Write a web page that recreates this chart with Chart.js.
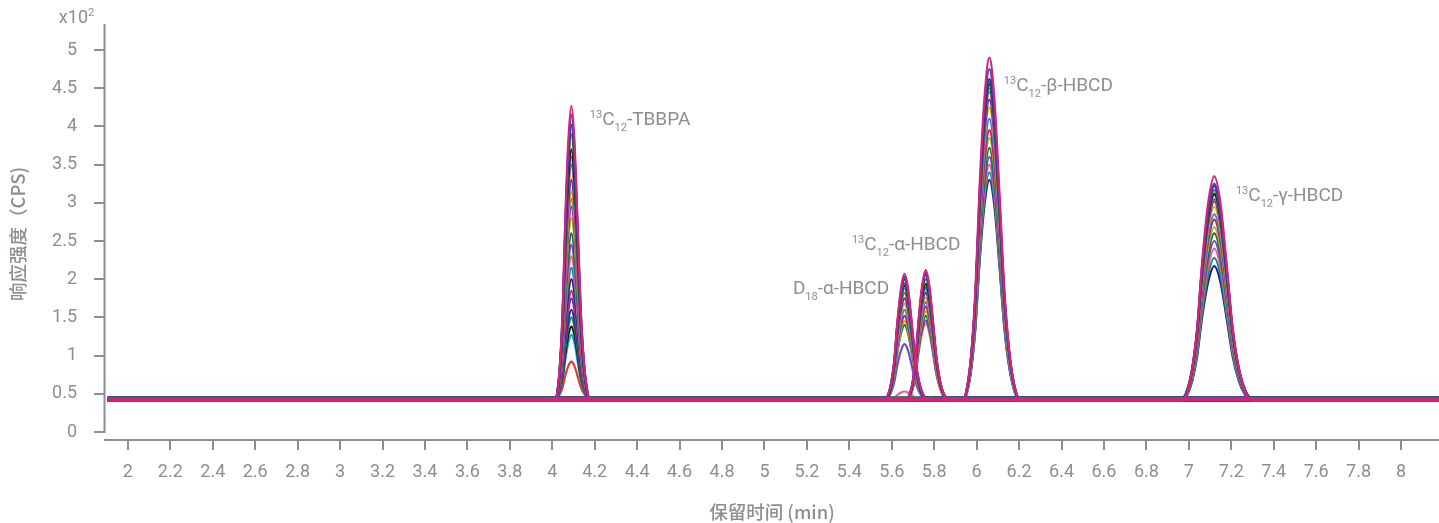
<!DOCTYPE html>
<html>
<head>
<meta charset="utf-8">
<script src="https://cdn.jsdelivr.net/npm/chart.js@4"></script>
<style>
  html, body { margin: 0; padding: 0; background: #fff; }
  #wrap { width: 1439px; height: 523px; }
</style>
</head>
<body>
<div id="wrap"><canvas id="myChart"></canvas></div>
<script>
// compounds, retention times (min) and peak sigma (min)
const retentionTimes = [4.09, 5.66, 5.76, 6.06, 7.12];
const peakSigma = [0.029, 0.034, 0.034, 0.047, 0.058];

// apex heights (x10^2 CPS) of every overlaid injection
const tbbpaApex = [4.27, 4.15, 4.02, 3.9, 3.7, 3.6, 3.5, 3.3, 3.15, 3.05, 2.95, 2.8, 2.6, 2.45, 2.3, 2.15, 2.0, 1.85, 1.75, 1.6, 1.5, 1.38, 1.27, 0.92];
const d18AlphaApex = [2.07, 2.03, 2.0, 1.95, 1.92, 1.88, 1.82, 1.75, 1.68, 1.6, 1.52, 1.45, 1.4, 1.15, 0.53];
const c13AlphaApex = [2.12, 2.08, 2.06, 2.0, 1.94, 1.9, 1.88, 1.82, 1.76, 1.7, 1.64, 1.58, 1.52, 1.46, 1.42];
const betaApex = [4.9, 4.75, 4.62, 4.58, 4.55, 4.5, 4.45, 4.35, 4.25, 4.1, 3.95, 3.85, 3.72, 3.6, 3.5, 3.4, 3.3];
const gammaApex = [3.35, 3.25, 3.22, 3.17, 3.12, 3.1, 3.05, 3.02, 2.95, 2.85, 2.78, 2.68, 2.6, 2.5, 2.4, 2.28, 2.17];
const apexLists = [tbbpaApex, d18AlphaApex, c13AlphaApex, betaApex, gammaApex];

// baseline levels of the traces
const baseLevels = [0.42, 0.43, 0.41, 0.44, 0.42, 0.45, 0.43, 0.41, 0.42, 0.44];
const runStart = 1.905;
const runEnd = 8.18;

// peak profile (steps in sigma, relative height) as seen on the traces, slight tailing
const shapeSteps = [-2.6, -2.2, -1.8, -1.4, -1, -0.5, 0, 0.5, 1, 1.5, 2, 2.5, 3];
const shapeValues = [0, 0.04, 0.14, 0.32, 0.61, 0.88, 1, 0.88, 0.61, 0.32, 0.14, 0.04, 0];

// peak labels
const labelParts = [
  { sup: '13', main: 'C', sub: '12', rest: '-TBBPA' },
  { sup: '', main: 'D', sub: '18', rest: '-α-HBCD' },
  { sup: '13', main: 'C', sub: '12', rest: '-α-HBCD' },
  { sup: '13', main: 'C', sub: '12', rest: '-β-HBCD' },
  { sup: '13', main: 'C', sub: '12', rest: '-γ-HBCD' }
];
const labelTimes = [4.177, 5.134, 5.412, 6.128, 7.222];
const labelLevels = [4.08, 1.87, 2.45, 4.52, 3.08];

const traceColors = ['#d4237a', '#4b3bbf', '#1f2f8f', '#2a8a3e', '#141414', '#1d9fc4', '#e53b2f', '#5a2fb0',
  '#f5a020', '#3f74d8', '#c2185b', '#a6b82a', '#1a6b3a', '#6d4ac9', '#e8608f', '#0f8f86', '#2b1f7a'];

const axisColor = '#8b8f94';
const textColor = '#8b8f94';
const axisTop = 5.34; // where the drawn y axis line ends

// build one dataset per compound per injection
let datasets = [];
let maxRuns = Math.max(...apexLists.map(a => a.length));
for (let i = 0; i < maxRuns; i++) {
  apexLists.forEach((list, k) => {
    if (i >= list.length) return;
    let base = baseLevels[(i + k * 3) % baseLevels.length];
    let pts = [{ x: runStart, y: base }];
    shapeSteps.forEach((s, j) => {
      pts.push({ x: retentionTimes[k] + s * peakSigma[k], y: base + (list[i] - base) * shapeValues[j] });
    });
    pts.push({ x: runEnd, y: base });
    datasets.push({
      data: pts,
      borderColor: traceColors[i % traceColors.length],
      borderWidth: 2.2,
      pointRadius: 0,
      fill: false,
      cubicInterpolationMode: 'monotone'
    });
  });
}

const extrasPlugin = {
  id: 'extras',
  afterDraw(chart) {
    const { ctx, chartArea, scales: { x, y } } = chart;
    ctx.save();
    // y axis line from 0 to top
    ctx.strokeStyle = axisColor;
    ctx.lineWidth = 2;
    ctx.beginPath();
    ctx.moveTo(chartArea.left - 0.5, y.getPixelForValue(0) + 1);
    ctx.lineTo(chartArea.left - 0.5, y.getPixelForValue(axisTop));
    ctx.stroke();

    // x10^2
    ctx.fillStyle = textColor;
    ctx.textBaseline = 'middle';
    ctx.textAlign = 'right';
    ctx.font = '18px Roboto';
    ctx.fillText('x10', 88, 18);
    ctx.textAlign = 'left';
    ctx.font = '11px Roboto';
    ctx.fillText('2', 88, 13);

    // peak labels
    labelParts.forEach((p, i) => {
      let px = x.getPixelForValue(labelTimes[i]);
      let py = y.getPixelForValue(labelLevels[i]);
      if (p.sup) {
        ctx.font = '11px Roboto';
        ctx.fillText(p.sup, px, py - 5);
        px += ctx.measureText(p.sup).width;
      }
      ctx.font = '19px Roboto';
      ctx.fillText(p.main, px, py);
      px += ctx.measureText(p.main).width;
      ctx.font = '11px Roboto';
      ctx.fillText(p.sub, px, py + 8);
      px += ctx.measureText(p.sub).width;
      ctx.font = '19px Roboto';
      ctx.fillText(p.rest, px, py);
    });
    ctx.restore();
  }
};

let ctx = document.getElementById('myChart').getContext('2d');
let chart = new Chart(ctx, {
  type: 'line',
  data: { datasets: datasets },
  options: {
    responsive: true,
    maintainAspectRatio: false,
    animation: false,
    layout: { padding: { top: 16.8, left: 0, right: 0, bottom: 0 } },
    plugins: { legend: { display: false }, tooltip: { enabled: false } },
    scales: {
      x: {
        type: 'linear',
        min: 1.892,
        max: 8.179,
        afterFit: s => { s.height = 83; },
        border: { display: true, color: axisColor, width: 2 },
        grid: { drawOnChartArea: false, drawTicks: true, tickLength: 10, color: axisColor, lineWidth: 2 },
        ticks: {
          stepSize: 0.2,
          includeBounds: false,
          maxRotation: 0,
          autoSkip: false,
          padding: 12,
          color: textColor,
          font: { family: 'Roboto', size: 18 },
          callback: v => String(Number(v.toFixed(1)))
        },
        title: {
          display: true,
          text: '保留时间 (min)',
          color: textColor,
          padding: { top: 0, bottom: 0 },
          font: { family: 'Noto Sans CJK SC', size: 18.5, weight: '500' }
        }
      },
      y: {
        type: 'linear',
        min: -0.1047,
        max: 5.2906,
        afterFit: s => { s.width = 105; },
        border: { display: false },
        grid: { drawOnChartArea: false, drawTicks: true, tickLength: 11, color: axisColor, lineWidth: 2 },
        ticks: {
          stepSize: 0.5,
          includeBounds: false,
          padding: 17,
          color: textColor,
          font: { family: 'Roboto', size: 18 },
          callback: v => String(Number(v.toFixed(1)))
        },
        title: {
          display: true,
          text: '响应强度（CPS)',
          color: textColor,
          padding: { top: 7, bottom: 0 },
          font: { family: 'Noto Sans CJK SC', size: 18.5, weight: '500' }
        }
      }
    }
  },
  plugins: [extrasPlugin]
});
</script>
</body>
</html>
